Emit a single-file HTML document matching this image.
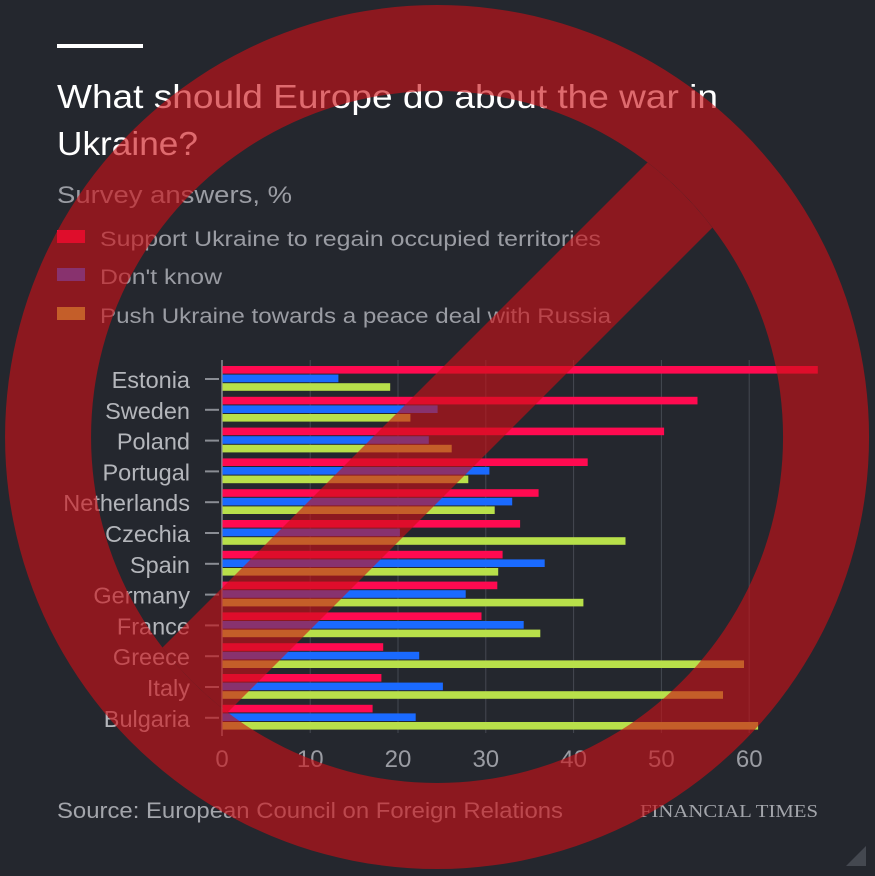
<!DOCTYPE html>
<html><head><meta charset="utf-8"><style>
html,body{margin:0;padding:0;background:#24272e;}
svg{display:block;}
</style></head><body>
<svg width="875" height="876" xmlns="http://www.w3.org/2000/svg" font-family="Liberation Sans, sans-serif">
<rect width="875" height="876" fill="#24272e"/>
<rect x="57" y="44" width="86" height="4" fill="#fff"/>
<text x="57" y="108" font-size="33" fill="#fff" textLength="661" lengthAdjust="spacingAndGlyphs">What should Europe do about the war in</text>
<text x="57" y="155" font-size="33" fill="#fff" textLength="141" lengthAdjust="spacingAndGlyphs">Ukraine?</text>
<text x="57" y="203" font-size="24" fill="#9a9ca3" textLength="235" lengthAdjust="spacingAndGlyphs">Survey answers, %</text>
<rect x="57" y="230" width="28" height="13" fill="#ff0a50"/>
<text x="100" y="246" font-size="21" fill="#9a9ca3" textLength="501" lengthAdjust="spacingAndGlyphs">Support Ukraine to regain occupied territories</text>
<rect x="57" y="268" width="28" height="13" fill="#1a6aff"/>
<text x="100" y="284" font-size="21" fill="#9a9ca3" textLength="122" lengthAdjust="spacingAndGlyphs">Don't know</text>
<rect x="57" y="307" width="28" height="13" fill="#b8e04a"/>
<text x="100" y="323" font-size="21" fill="#9a9ca3" textLength="511" lengthAdjust="spacingAndGlyphs">Push Ukraine towards a peace deal with Russia</text>
<g stroke="#454952" stroke-width="1">
<line x1="310.2" y1="360" x2="310.2" y2="733"/><line x1="398" y1="360" x2="398" y2="733"/>
<line x1="485.8" y1="360" x2="485.8" y2="733"/><line x1="573.6" y1="360" x2="573.6" y2="733"/>
<line x1="661.4" y1="360" x2="661.4" y2="733"/><line x1="749.2" y1="360" x2="749.2" y2="733"/>
</g>
<line x1="222" y1="360" x2="222" y2="736" stroke="#8a8d94" stroke-width="1.5"/>
<g>
<rect x="222.5" y="366" width="595.3" height="7.6" fill="#ff0a50"/><rect x="222.5" y="374.6" width="115.9" height="7.6" fill="#1a6aff"/><rect x="222.5" y="383.2" width="167.7" height="7.6" fill="#b8e04a"/>
<rect x="222.5" y="396.8" width="475" height="7.6" fill="#ff0a50"/><rect x="222.5" y="405.4" width="215.1" height="7.6" fill="#1a6aff"/><rect x="222.5" y="414" width="187.9" height="7.6" fill="#b8e04a"/>
<rect x="222.5" y="427.6" width="441.6" height="7.6" fill="#ff0a50"/><rect x="222.5" y="436.2" width="206.3" height="7.6" fill="#1a6aff"/><rect x="222.5" y="444.8" width="229.2" height="7.6" fill="#b8e04a"/>
<rect x="222.5" y="458.4" width="365.2" height="7.6" fill="#ff0a50"/><rect x="222.5" y="467" width="266.9" height="7.6" fill="#1a6aff"/><rect x="222.5" y="475.6" width="245.8" height="7.6" fill="#b8e04a"/>
<rect x="222.5" y="489.2" width="316.1" height="7.6" fill="#ff0a50"/><rect x="222.5" y="497.8" width="289.7" height="7.6" fill="#1a6aff"/><rect x="222.5" y="506.4" width="272.2" height="7.6" fill="#b8e04a"/>
<rect x="222.5" y="520" width="297.6" height="7.6" fill="#ff0a50"/><rect x="222.5" y="528.6" width="177.4" height="7.6" fill="#1a6aff"/><rect x="222.5" y="537.2" width="403" height="7.6" fill="#b8e04a"/>
<rect x="222.5" y="550.8" width="280.1" height="7.6" fill="#ff0a50"/><rect x="222.5" y="559.4" width="322.2" height="7.6" fill="#1a6aff"/><rect x="222.5" y="568" width="275.7" height="7.6" fill="#b8e04a"/>
<rect x="222.5" y="581.6" width="274.8" height="7.6" fill="#ff0a50"/><rect x="222.5" y="590.2" width="243.2" height="7.6" fill="#1a6aff"/><rect x="222.5" y="598.8" width="360.9" height="7.6" fill="#b8e04a"/>
<rect x="222.5" y="612.4" width="259" height="7.6" fill="#ff0a50"/><rect x="222.5" y="621" width="301.2" height="7.6" fill="#1a6aff"/><rect x="222.5" y="629.6" width="317.8" height="7.6" fill="#b8e04a"/>
<rect x="222.5" y="643.2" width="160.7" height="7.6" fill="#ff0a50"/><rect x="222.5" y="651.8" width="196.7" height="7.6" fill="#1a6aff"/><rect x="222.5" y="660.4" width="521.5" height="7.6" fill="#b8e04a"/>
<rect x="222.5" y="674" width="158.9" height="7.6" fill="#ff0a50"/><rect x="222.5" y="682.6" width="220.4" height="7.6" fill="#1a6aff"/><rect x="222.5" y="691.2" width="500.5" height="7.6" fill="#b8e04a"/>
<rect x="222.5" y="704.8" width="150.1" height="7.6" fill="#ff0a50"/><rect x="222.5" y="713.4" width="193.2" height="7.6" fill="#1a6aff"/><rect x="222.5" y="722" width="535.6" height="7.6" fill="#b8e04a"/>
</g>
<g stroke="#8a8d94" stroke-width="2">
<line x1="205" x2="219" y1="379" y2="379"/><line x1="205" x2="219" y1="409.8" y2="409.8"/><line x1="205" x2="219" y1="440.6" y2="440.6"/><line x1="205" x2="219" y1="471.4" y2="471.4"/><line x1="205" x2="219" y1="502.2" y2="502.2"/><line x1="205" x2="219" y1="533" y2="533"/><line x1="205" x2="219" y1="563.8" y2="563.8"/><line x1="205" x2="219" y1="594.6" y2="594.6"/><line x1="205" x2="219" y1="625.4" y2="625.4"/><line x1="205" x2="219" y1="656.2" y2="656.2"/><line x1="205" x2="219" y1="687" y2="687"/><line x1="205" x2="219" y1="717.8" y2="717.8"/>
</g>
<g font-size="23.5" fill="#b4b6bb" text-anchor="end">
<text x="190" y="388">Estonia</text><text x="190" y="418.8">Sweden</text><text x="190" y="449.6">Poland</text><text x="190" y="480.4">Portugal</text><text x="190" y="511.2">Netherlands</text><text x="190" y="542">Czechia</text><text x="190" y="572.8">Spain</text><text x="190" y="603.6">Germany</text><text x="190" y="634.4">France</text><text x="190" y="665.2">Greece</text><text x="190" y="696">Italy</text><text x="190" y="726.8">Bulgaria</text>
</g>
<g font-size="24" fill="#9a9ca3" text-anchor="middle">
<text x="222" y="767">0</text><text x="310.2" y="767">10</text><text x="398" y="767">20</text><text x="485.8" y="767">30</text><text x="573.6" y="767">40</text><text x="661.4" y="767">50</text><text x="749.2" y="767">60</text>
</g>
<text x="57" y="818" font-size="22" fill="#a3a5ab" textLength="506" lengthAdjust="spacingAndGlyphs">Source: European Council on Foreign Relations</text>
<text x="818" y="817" font-size="18" fill="#a3a5ab" text-anchor="end" font-family="Liberation Serif, serif" textLength="178" lengthAdjust="spacingAndGlyphs">FINANCIAL TIMES</text>
<polygon points="866,846 866,866 846,866" fill="#444850"/>
<defs><clipPath id="cc"><circle cx="437" cy="437" r="346"/></clipPath></defs>
<g opacity="0.62" fill="#cc1016">
<path fill-rule="evenodd" d="M437,5 a432,432 0 1,0 0.1,0 Z M437,91 a346,346 0 1,0 0.1,0 Z"/>
<polygon clip-path="url(#cc)" points="810,0 940,0 64,876 -66,876"/>
</g>
</svg>
</body></html>
